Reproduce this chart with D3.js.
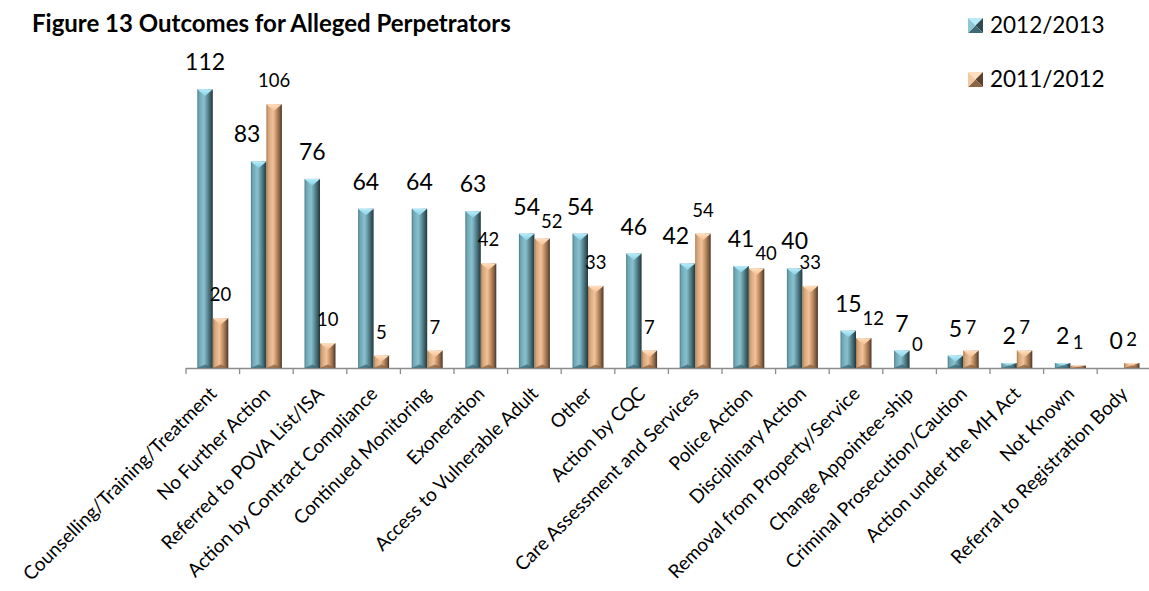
<!DOCTYPE html>
<html>
<head>
<meta charset="utf-8">
<script src="https://cdn.jsdelivr.net/npm/d3@7"></script>
<style>
  html, body { margin: 0; padding: 0; background: #fff; }
  svg { display: block; }
  text { font-family: Lato, "Open Sans", sans-serif; fill: #000; }
</style>
</head>
<body>
<svg id="chart" width="1149" height="591"></svg>
<script>
// ---- data ----
const categories = [
  "Counselling/Training/Treatment", "No Further Action", "Referred to POVA List/ISA",
  "Action by Contract Compliance", "Continued Monitoring", "Exoneration",
  "Access to Vulnerable Adult", "Other", "Action by CQC", "Care Assessment and Services",
  "Police Action", "Disciplinary Action", "Removal from Property/Service",
  "Change Appointee-ship", "Criminal Prosecution/Caution", "Action under the MH Act",
  "Not Known", "Referral to Registration Body"
];
const seriesNames = ["2012/2013", "2011/2012"];
const values2012_2013 = [112, 83, 76, 64, 64, 63, 54, 54, 46, 42, 41, 40, 15, 7, 5, 2, 2, 0];
const values2011_2012 = [20, 106, 10, 5, 7, 42, 52, 33, 7, 54, 40, 33, 12, 0, 7, 7, 1, 2];
const titleText = "Figure 13 Outcomes for Alleged Perpetrators";

// ---- layout ----
const W = 1149, H = 591;
const plotLeft = 186, bandW = 53.6, axisY = 368, yTop = 69.4;
const svg = d3.select("#chart");

const x = d3.scaleBand().domain(categories)
  .range([plotLeft, plotLeft + bandW * categories.length]).padding(0);
const x1 = d3.scaleBand().domain(seriesNames)
  .range([11.3, 42.3]).padding(0);
const y = d3.scaleLinear().domain([0, 120]).range([axisY, yTop]);

const rows = categories.map((c, i) => ({
  cat: c,
  vals: [
    { s: seriesNames[0], v: values2012_2013[i], k: 0 },
    { s: seriesNames[1], v: values2011_2012[i], k: 1 }
  ]
}));

// ---- gradients ----
const defs = svg.append("defs");
const palettes = [
  { body: ["#4c7c87", "#6fa6b4", "#8ac1cf", "#6b9fac", "#3c5f67", "#23373c"],
    top: ["#b6ecfa", "#86d0e5"], bottom: "#3f6a74", left: "#8fc6d4", right: "#2d4a51" },
  { body: ["#a27852", "#d6a478", "#f0c39b", "#d49f72", "#8a6446", "#4a3526"],
    top: ["#ffdfc0", "#f4bd8e"], bottom: "#8b6545", left: "#f3c9a3", right: "#5a4130" }
];
palettes.forEach((p, k) => {
  const g = defs.append("linearGradient").attr("id", "body" + k)
    .attr("x1", "0%").attr("x2", "100%").attr("y1", "0%").attr("y2", "0%");
  const offs = [0, 12, 42, 58, 84, 100];
  p.body.forEach((c, j) => g.append("stop").attr("offset", offs[j] + "%").attr("stop-color", c));
  const t = defs.append("linearGradient").attr("id", "top" + k)
    .attr("x1", "0%").attr("x2", "0%").attr("y1", "0%").attr("y2", "100%");
  t.append("stop").attr("offset", "0%").attr("stop-color", p.top[0]);
  t.append("stop").attr("offset", "100%").attr("stop-color", p.top[1]);
});

// ---- title ----
svg.append("text")
  .attr("x", 32).attr("y", 32)
  .style("font-weight", "bold").style("font-size", "24px")
  .text(titleText);

// ---- axis ----
const axisG = svg.append("g");
axisG.append("line")
  .attr("x1", x.range()[0]).attr("x2", W)
  .attr("y1", axisY + 0.5).attr("y2", axisY + 0.5)
  .attr("stroke", "#8c8c8c").attr("stroke-width", 1.3);
axisG.selectAll("line.tick").data(categories).enter().append("line")
  .attr("class", "tick")
  .attr("x1", d => x(d)).attr("x2", d => x(d))
  .attr("y1", axisY).attr("y2", axisY + 6)
  .attr("stroke", "#8c8c8c").attr("stroke-width", 1.3);

axisG.selectAll("text.cat").data(categories).enter().append("text")
  .attr("class", "cat")
  .attr("text-anchor", "end")
  .attr("transform", d => `translate(${x(d) + bandW / 2 + 5},${axisY + 27}) rotate(-45)`)
  .style("font-size", "19px")
  .text(d => d);

// ---- bars ----
const groups = svg.selectAll("g.cat").data(rows).enter().append("g")
  .attr("class", "cat")
  .attr("transform", d => `translate(${x(d.cat)},0)`);

const bars = groups.selectAll("g.bar").data(d => d.vals.filter(v => v.v > 0)).enter()
  .append("g").attr("class", "bar");

bars.each(function (d) {
  const g = d3.select(this);
  const bx = x1(d.s), bw = x1.bandwidth();
  const by = y(d.v), bh = axisY - by;
  const p = palettes[d.k];
  g.append("rect").attr("x", bx).attr("y", by).attr("width", bw).attr("height", bh)
    .attr("fill", `url(#body${d.k})`);
  const dt = Math.min(bw / 2 * 0.85, bh / 2);
  g.append("polygon")
    .attr("points", [[bx, by], [bx + bw, by], [bx + bw / 2, by + dt]].map(p => p.join(",")).join(" "))
    .attr("fill", `url(#top${d.k})`);
  const db = Math.min(bw / 2 * 0.45, bh / 2);
  g.append("polygon")
    .attr("points", [[bx, axisY], [bx + bw, axisY], [bx + bw / 2, axisY - db]].map(p => p.join(",")).join(" "))
    .attr("fill", p.bottom).attr("opacity", 0.8);
});

// ---- value labels ----
const labelSizes = [23, 18.5];
rows.forEach((r, i) => {
  const g = groups.filter((d, j) => j === i);
  const bx0 = x1(seriesNames[0]), bx1 = x1(seriesNames[1]), bw = x1.bandwidth();
  const vb = r.vals[0].v, vo = r.vals[1].v;
  const tb = g.append("text").attr("text-anchor", "middle")
    .style("font-size", labelSizes[0] + "px").text(vb);
  const to = g.append("text").attr("text-anchor", "middle")
    .style("font-size", labelSizes[1] + "px").text(vo);
  const wb = tb.node().getComputedTextLength();
  const wo = to.node().getComputedTextLength();
  let cb = bx0 + bw / 2, yb = y(vb) - 19;
  let co = bx1 + bw / 2, yo = y(vo) - 17;
  const ascB = labelSizes[0] * 0.72, ascO = labelSizes[1] * 0.72;
  // blue label colliding with the (taller) orange bar
  if (y(vo) < yb + 3 && cb + wb / 2 > bx1 - 6) {
    cb = bx1 - 6 - wb / 2;
  }
  // orange label colliding with blue label: drop it a little and push it right
  const bL = cb - wb / 2, bR = cb + wb / 2, bT = yb - ascB, bB = yb + 3;
  const oL = co - wo / 2, oR = co + wo / 2, oT = yo - ascO, oB = yo + 3;
  if (oL < bR && oR > bL && oT < bB && oB > bT && vo <= vb) {
    yo = Math.max(yo, yb + 13);
    co = Math.max(co, bR + 1 + wo / 2);
  }
  tb.attr("x", cb).attr("y", yb);
  to.attr("x", co).attr("y", yo);
});

// ---- legend ----
const legend = svg.append("g");
seriesNames.forEach((s, k) => {
  const ly = [33, 87][k];
  const lx = 968, sz = 15;
  const p = palettes[k];
  const gg = legend.append("g");
  const tl = [lx, ly - sz], tr = [lx + sz, ly - sz], br = [lx + sz, ly], bl = [lx, ly], c = [lx + sz / 2, ly - sz / 2];
  const tri = (a, b, col) => gg.append("polygon").attr("points", [a, b, c].map(q => q.join(",")).join(" ")).attr("fill", col);
  tri(tl, tr, p.top[0]);
  tri(tr, br, p.right);
  tri(br, bl, p.bottom);
  tri(bl, tl, p.left);
  legend.append("text").attr("x", 990).attr("y", ly)
    .style("font-size", "22.5px").text(s);
});
</script>
</body>
</html>
